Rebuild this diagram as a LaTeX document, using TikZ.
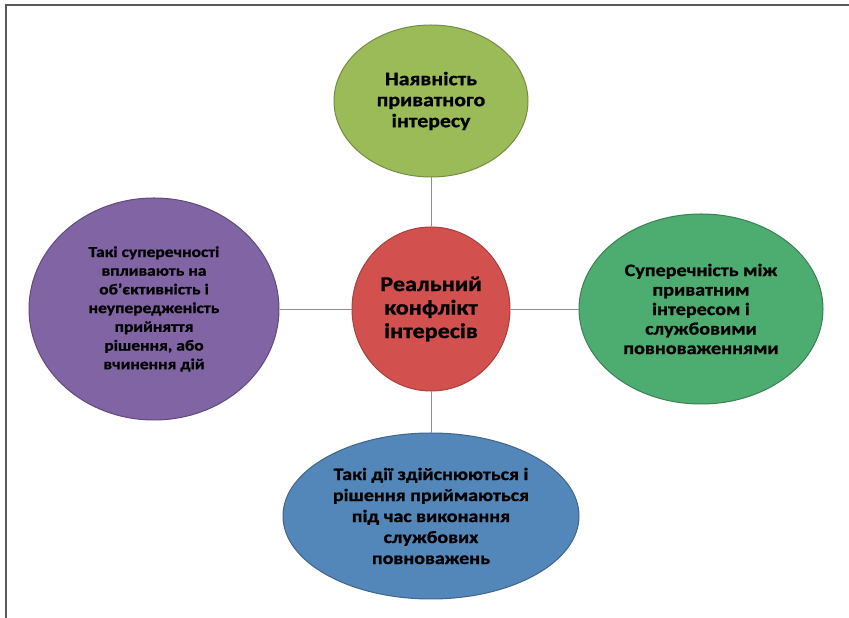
\documentclass[tikz,border=0pt]{standalone}
\usepackage{fontspec}
\setmainfont{Carlito}[FakeStretch=1.15, BoldFeatures={FakeBold=1}]
\usepackage{tikz}
\usetikzlibrary{positioning,shapes.geometric}
\usepackage{xcolor}

\definecolor{topgreen}{RGB}{155,187,89}
\definecolor{realred}{RGB}{210,80,78}
\definecolor{lilac}{RGB}{128,100,164}
\definecolor{seagreen}{RGB}{77,172,112}
\definecolor{steelblue}{RGB}{84,135,185}
\definecolor{linkgray}{RGB}{140,140,160}
\definecolor{framegray}{RGB}{90,90,90}

\begin{document}
\begin{tikzpicture}[font=\bfseries]
	% Define styles for bubbles
	\tikzset{
		bubble/.style={
			ellipse,
			draw,
			line width=1pt,
			inner xsep=-40pt,
			inner ysep=-20pt,
			align=center,
			text=black
		},
		link/.style={
			draw=linkgray,
			line width=0.9pt
		}
	}
	\useasboundingbox (0,0) rectangle (849pt,618pt);
	% frame
	\draw[framegray, line width=1.4pt] (849pt,613pt) -- (6pt,613pt) -- (6pt,0pt);

	% centre bubble
	\node[bubble, fill=realred, draw=realred!80!black, minimum width=158pt, minimum height=164pt,
		font=\bfseries\fontsize{21}{23.5}\selectfont] (real) at (431pt,309pt) {Реальний\\конфлікт\\інтересів};

	% outer bubbles
	\node[bubble, above=49pt of real, fill=topgreen, draw=topgreen!75!black, minimum width=194pt, minimum height=152pt,
		font=\bfseries\fontsize{19}{21}\selectfont] (private) {Наявність\\приватного\\інтересу};
	\node[bubble, right=68pt of real, fill=seagreen, draw=seagreen!75!black, minimum width=244pt, minimum height=190pt,
		font=\bfseries\fontsize{17.5}{19.5}\selectfont] (clash) {Суперечність між\\приватним\\інтересом і\\службовими\\повноваженнями};
	\node[bubble, below=41pt of real, fill=steelblue, draw=steelblue!75!black, minimum width=296pt, minimum height=166pt,
		font=\bfseries\fontsize{17.4}{21}\selectfont] (duties) {Такі дії здійснюються і\\рішення приймаються\\під час виконання\\службових\\повноважень};
	\node[bubble, left=72pt of real, fill=lilac, draw=lilac!75!black, minimum width=250pt, minimum height=222pt,
		font=\bfseries\fontsize{15.2}{18.7}\selectfont] (impact) {Такі суперечності\\впливають на\\об’єктивність і\\неупередженість\\прийняття\\рішення, або\\вчинення дій};

	% links
	\draw[link] (private) -- (real);
	\draw[link] (real) -- (clash);
	\draw[link] (real) -- (duties);
	\draw[link] (impact) -- (real);
\end{tikzpicture}
\end{document}
